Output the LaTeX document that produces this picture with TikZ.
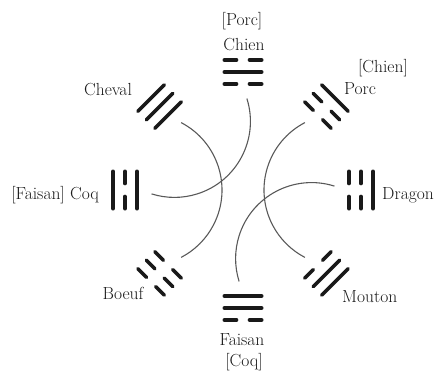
\documentclass[tikz,border=0pt]{standalone}
\usetikzlibrary{calc}
\tikzset{
  tline/.style={line width=3.6pt,line cap=round,black!90},
  arcline/.style={line width=1.1pt,black!65},
  lab/.style={font=\fontsize{17.5}{20}\selectfont,inner sep=0pt,text=black!90}
}
% #1 = direction angle, #2 inner, #3 middle, #4 outer (1 = solid, 0 = broken)
\newcommand\mytrigram[4]{%
  \foreach \rr/\bb in {106/#2,118/#3,130/#4}{%
    \ifnum\bb=1
      \draw[tline] ($(C)+(#1:\rr)+(#1+90:18.7)$) -- ($(C)+(#1:\rr)+(#1-90:18.7)$);
    \else
      \draw[tline] ($(C)+(#1:\rr)+(#1+90:18.7)$) -- ($(C)+(#1:\rr)+(#1+90:6.5)$);
      \draw[tline] ($(C)+(#1:\rr)+(#1-90:18.7)$) -- ($(C)+(#1:\rr)+(#1-90:6.5)$);
    \fi}}
\begin{document}
\begin{tikzpicture}[x=1pt,y=1pt]
\useasboundingbox (0,0) rectangle (443,373);
\coordinate (C) at (243,183);
% trigrams
\mytrigram{90}{0}{1}{0}
\mytrigram{45}{0}{0}{1}
\mytrigram{0}{0}{0}{1}
\mytrigram{-45}{0}{1}{1}
\mytrigram{-90}{1}{1}{0}
\mytrigram{-135}{0}{0}{0}
\mytrigram{180}{1}{0}{1}
\mytrigram{135}{1}{1}{1}
% arcs
\coordinate (cA) at ($(C)+(135:97)$);
\coordinate (cB) at ($(C)+(180:97)$);
\coordinate (cC) at ($(C)+(0:97)$);
\coordinate (cD) at ($(C)+(-45:97)$);
\coordinate (sA) at ($(cA)+(17.5:76)$);
\coordinate (sB) at ($(cB)+(62.5:76)$);
\coordinate (sC) at ($(cC)+(117.5:76)$);
\coordinate (sD) at ($(cD)+(72.5:76)$);
\draw[arcline] (sA) arc[start angle=17.5,end angle=-107.5,radius=76];
\draw[arcline] (sB) arc[start angle=62.5,end angle=-62.5,radius=76];
\draw[arcline] (sC) arc[start angle=117.5,end angle=242.5,radius=76];
\draw[arcline] (sD) arc[start angle=72.5,end angle=197.5,radius=76];
% labels
\node[lab,anchor=base] (porcN) at (242,347) {[Porc]};
\node[lab,anchor=base] (chienN) at (244,323) {Chien};
\node[lab,anchor=base] (cheval) at (108,278) {Cheval};
\node[lab,anchor=base] (chienNE) at (383,301) {[Chien]};
\node[lab,anchor=base] (porcNE) at (360,279) {Porc};
\node[lab,anchor=base east] (coqW) at (99,174) {[Faisan] Coq};
\node[lab,anchor=base west] (dragon) at (382,174) {Dragon};
\node[lab,anchor=base] (boeuf) at (123,74) {Boeuf};
\node[lab,anchor=base west] (mouton) at (342,71) {Mouton};
\node[lab,anchor=base] (faisanS) at (242,28) {Faisan};
\node[lab,anchor=base] (coqS) at (244,7) {[Coq]};
\end{tikzpicture}
\end{document}
